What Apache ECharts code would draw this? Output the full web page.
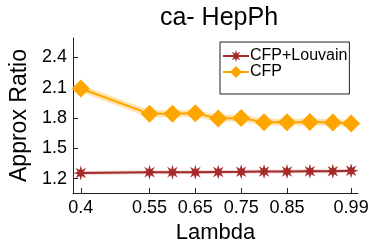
<!DOCTYPE html>
<html><head><meta charset="utf-8">
<script src="https://cdn.jsdelivr.net/npm/echarts@6/dist/echarts.min.js"></script>
<style>html,body{margin:0;padding:0;background:#fff}#c{width:374px;height:249px}</style>
</head><body><div id="c"></div>
<script>
const lambdas = [0.4, 0.55, 0.6, 0.65, 0.7, 0.75, 0.8, 0.85, 0.9, 0.95, 0.99];
const cfpLouvain = [1.255, 1.263, 1.263, 1.263, 1.265, 1.267, 1.27, 1.27, 1.272, 1.272, 1.277];
const cfp = [2.09, 1.84, 1.84, 1.845, 1.795, 1.80, 1.757, 1.757, 1.76, 1.755, 1.745];
const xTicks = [0.4, 0.55, 0.65, 0.75, 0.85, 0.99];
const yTicks = [1.2, 1.5, 1.8, 2.1, 2.4];
const seriesNames = ['CFP+Louvain', 'CFP'];

function starPath(n, ro, ri) {
  let p = '';
  for (let i = 0; i < 2 * n; i++) {
    const r = i % 2 === 0 ? ro : ri;
    const a = Math.PI * i / n - Math.PI / 2;
    p += (i === 0 ? 'M' : 'L') + (r * Math.cos(a)).toFixed(3) + ',' + (r * Math.sin(a)).toFixed(3);
  }
  return 'path://' + p + 'Z';
}
const star = starPath(8, 10, 4.3);
const pairs = arr => lambdas.map((x, i) => [x, arr[i]]);
const font = 'Liberation Sans';

const chart = echarts.init(document.getElementById('c'));
chart.setOption({
  animation: false,
  textStyle: { fontFamily: font, color: '#000' },
  title: { text: 'ca- HepPh', left: 214, textAlign: 'center', top: 1,
    textStyle: { fontFamily: font, fontSize: 25, fontWeight: 'normal', color: '#000' } },
  grid: { left: 70, right: 16, top: 38, bottom: 56 },
  legend: {
    data: seriesNames, orient: 'vertical', left: 220, top: 42,
    padding: [6, 2, 14, 2], itemGap: 0, itemWidth: 26, itemHeight: 15,
    borderColor: '#222', borderWidth: 1, backgroundColor: '#fff',
    textStyle: { fontFamily: font, fontSize: 16, color: '#000', padding: [0, 0, 0, -4] }
  },
  xAxis: {
    type: 'value', min: 0.383, max: 1.005,
    name: 'Lambda', nameLocation: 'middle', nameGap: 29,
    nameTextStyle: { fontFamily: font, fontSize: 22, color: '#000' },
    axisLine: { lineStyle: { color: '#222', width: 1 } },
    axisTick: { inside: true, length: 5, lineStyle: { color: '#222' }, customValues: xTicks },
    axisLabel: { fontFamily: font, fontSize: 18, color: '#000', margin: 6, customValues: xTicks,
      formatter: v => String(v) },
    splitLine: { show: false }
  },
  yAxis: {
    type: 'value', min: 1.057, max: 2.59,
    name: 'Approx Ratio', nameLocation: 'middle', nameGap: 42,
    nameTextStyle: { fontFamily: font, fontSize: 23, color: '#000' },
    axisLine: { show: true, lineStyle: { color: '#222', width: 1 } },
    axisTick: { show: true, inside: true, length: 5, lineStyle: { color: '#222' }, customValues: yTicks },
    axisLabel: { fontFamily: font, fontSize: 18, color: '#000', margin: 6, customValues: yTicks,
      formatter: v => v.toFixed(1) },
    splitLine: { show: false }
  },
  series: [
    { type: 'line', name: 'band1', data: pairs(cfpLouvain), symbol: 'none', silent: true,
      lineStyle: { color: '#d99a9a', width: 4, opacity: 0.4 }, z: 1 },
    { type: 'line', name: 'band2', data: pairs(cfp), symbol: 'none', silent: true,
      lineStyle: { color: '#ffcc70', width: 7, opacity: 0.55 }, z: 1 },
    { type: 'line', name: seriesNames[0], data: pairs(cfpLouvain), symbol: star, symbolSize: 15,
      itemStyle: { color: '#a52a2a' }, lineStyle: { color: '#a52a2a', width: 2 }, z: 3 },
    { type: 'line', name: seriesNames[1], data: pairs(cfp), symbol: 'diamond', symbolSize: 18,
      itemStyle: { color: '#ffa500' }, lineStyle: { color: '#ffa500', width: 2 }, z: 3 }
  ]
});
</script></body></html>
